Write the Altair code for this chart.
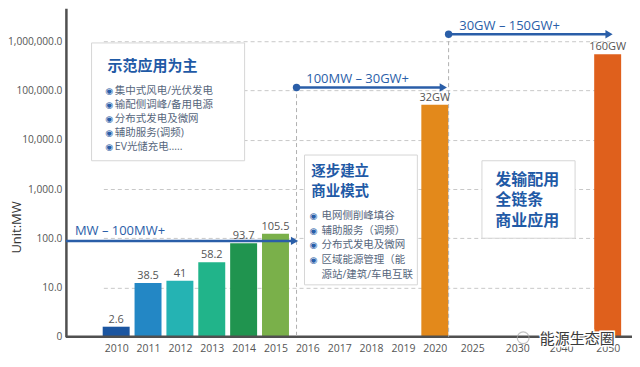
import altair as alt
import pandas as pd

# ---- data ----
years = [2010, 2011, 2012, 2013, 2014, 2015, 2020, 2050]
bar_heights = [1.6, 12.3, 13.7, 32.7, 79.5, 123, 51600, 550000]   # drawn heights (log axis)
bar_labels = ["2.6", "38.5", "41", "58.2", "93.7", "105.5", "32GW", "160GW"]
bar_colors = ["#1b55a0", "#2387c5", "#25b3b3", "#21b48a", "#20944f", "#7ab04a", "#e3891b", "#df601c"]
axis_years = [2010, 2011, 2012, 2013, 2014, 2015, 2016, 2017, 2018, 2019, 2020, 2025, 2030, 2040, 2050]
y_ticks = [1, 10, 100, 1000, 10000, 100000, 1000000]

box1_title = "示范应用为主"
box1_items = ["集中式风电/光伏发电", "输配侧调峰/备用电源", "分布式发电及微网", "辅助服务(调频)", "EV光储充电....."]
box2_title = ["逐步建立", "商业模式"]
box2_items = ["电网侧削峰填谷", "辅助服务（调频）", "分布式发电及微网", "区域能源管理（能", "源站/建筑/车电互联"]
box3_text = ["发输配用", "全链条", "商业应用"]
arrow_texts = ["MW – 100MW+", "100MW – 30GW+", "30GW – 150GW+"]
watermark = "能源生态圈"

df = pd.DataFrame({"year": years, "h": bar_heights, "label": bar_labels})

W, H = 567, 329
LAT = "Open Sans, Noto Sans CJK SC"
CJK = "Noto Sans CJK SC"
BLUE = "#2a5ea8"
one = alt.Data(values=[{}])

xscale = alt.Scale(domain=[2010, 2020, 2025, 2030, 2040, 2050],
                   range=[37.5, 369.5, 407, 452, 496, 544.5], zero=False, nice=False)
yscale = alt.Scale(type="log", domain=[1, 4.7e6], nice=False)

base = alt.Chart(df)

bars = base.mark_bar(size=27).encode(
    x=alt.X("year:Q", scale=xscale,
            axis=alt.Axis(values=axis_years, format="d", title=None, ticks=False, domain=False,
                          grid=False, labelFontSize=10.5, labelColor="#555", labelFont=LAT,
                          labelPadding=7)),
    y=alt.Y("h:Q", scale=yscale,
            axis=alt.Axis(values=y_ticks,
                          labelExpr="datum.value == 1 ? '0' : format(datum.value, ',.1f')",
                          ticks=False, domainColor="#505050", domainWidth=2.5,
                          gridColor="#c8c8c8", gridDash=[4, 3], gridWidth=1,
                          labelFontSize=10.2, labelColor="#555", labelFont=LAT, labelPadding=4,
                          title="Unit:MW", titleX=-49, titleY=219, titleAngle=270,
                          titleAlign="center", titleBaseline="middle", titleFontSize=13,
                          titleFontWeight="normal", titleColor="#333", titleFont=LAT)),
    y2=alt.datum(1),
    color=alt.Color("year:O", scale=alt.Scale(domain=years, range=bar_colors), legend=None),
)

bar_text = base.mark_text(baseline="bottom", dy=-2, fontSize=11, color="#555", font=LAT).encode(
    x=alt.X("year:Q", scale=xscale), y=alt.Y("h:Q", scale=yscale), text="label:N")

xline = alt.Chart(one).mark_rule(color="#505050", strokeWidth=2.5).encode(
    x=alt.value(0), x2=alt.value(W), y=alt.value(H))


def rect(x1, x2, y1, y2):
    return alt.Chart(one).mark_rect(fill="white", stroke="#d6d6d6", strokeWidth=1).encode(
        x=alt.value(x1), x2=alt.value(x2), y=alt.value(y1), y2=alt.value(y2))


def text(t, x, y, size, color, weight="normal", lh=None, font=CJK, align="left"):
    kw = dict(align=align, baseline="middle", fontSize=size, color=color, fontWeight=weight, font=font)
    if lh is not None:
        kw["lineHeight"] = lh
    return alt.Chart(one).mark_text(**kw).encode(x=alt.value(x), y=alt.value(y), text=alt.value(t))


def vdash(x, y1):
    return alt.Chart(one).mark_rule(color="#b0b0b0", strokeDash=[4, 3], strokeWidth=1).encode(
        x=alt.value(x), y=alt.value(y1), y2=alt.value(H))


def arrow(x1, x2, y, dot=True):
    layers = [alt.Chart(one).mark_rule(color=BLUE, strokeWidth=2.5).encode(
        x=alt.value(x1), x2=alt.value(x2 - 6), y=alt.value(y))]
    layers.append(alt.Chart(one).mark_point(shape="triangle-right", filled=True, size=70,
                                            color=BLUE, opacity=1).encode(
        x=alt.value(x2 - 4), y=alt.value(y)))
    if dot:
        layers.append(alt.Chart(one).mark_point(shape="circle", filled=True, size=55,
                                                color=BLUE, opacity=1).encode(
            x=alt.value(x1), y=alt.value(y)))
    return layers


ITEM = "#56667c"
bullet = "◉"
layers = [bars, xline,
          vdash(231, 79), vdash(383.3, 26),
          rect(25.7, 179, 34.7, 152.7),
          text(box1_title, 41.7, 57.7, 15, "#1f5aa6", "bold"),
          text([bullet] * 5, 39.5, 83, 9, BLUE, lh=14.1, font="DejaVu Sans"),
          text(box1_items, 49, 83, 10.5, ITEM, lh=14.1, font=LAT),
          rect(239, 352, 147, 277),
          text(box2_title, 245.7, 164.3, 14.5, "#1f5aa6", "bold", lh=19.4),
          text([bullet] * 4, 244, 208, 9, BLUE, lh=14.75, font="DejaVu Sans"),
          text(box2_items, 256, 208, 10.5, ITEM, lh=14.75, font=LAT),
          rect(416.7, 510, 152.7, 230.3),
          text(box3_text, 430, 172, 16, "#1f5aa6", "bold", lh=20.3),
          bar_text]
layers += arrow(0, 233, 233, dot=False)
layers += arrow(231, 382, 79.3)
layers += arrow(383.3, 548, 26)
layers += [text(arrow_texts[0], 9, 223, 13, BLUE, font=LAT),
           text(arrow_texts[1], 240.7, 71, 13, BLUE, font=LAT),
           text(arrow_texts[2], 394, 18, 13, BLUE, font=LAT)]
wm_stroke = alt.Chart(one).mark_text(align="left", baseline="middle", fontSize=15, font=CJK,
                                     stroke="white", strokeWidth=3, color="white").encode(
    x=alt.value(474.7), y=alt.value(331), text=alt.value(watermark))
layers += [alt.Chart(one).mark_point(shape="circle", size=140, color="#aaa", strokeWidth=1.2).encode(
               x=alt.value(458), y=alt.value(330)),
           wm_stroke, text(watermark, 474.7, 331, 15, "#3a3a3a")]

chart = alt.layer(*layers).properties(
    width=W, height=H,
    padding={"left": 58, "top": 0, "right": 0, "bottom": 22},
    autosize=alt.AutoSizeParams(type="none"),
).configure_view(stroke=None)

chart.save("out.html", embed_options={"renderer": "svg", "actions": False})
